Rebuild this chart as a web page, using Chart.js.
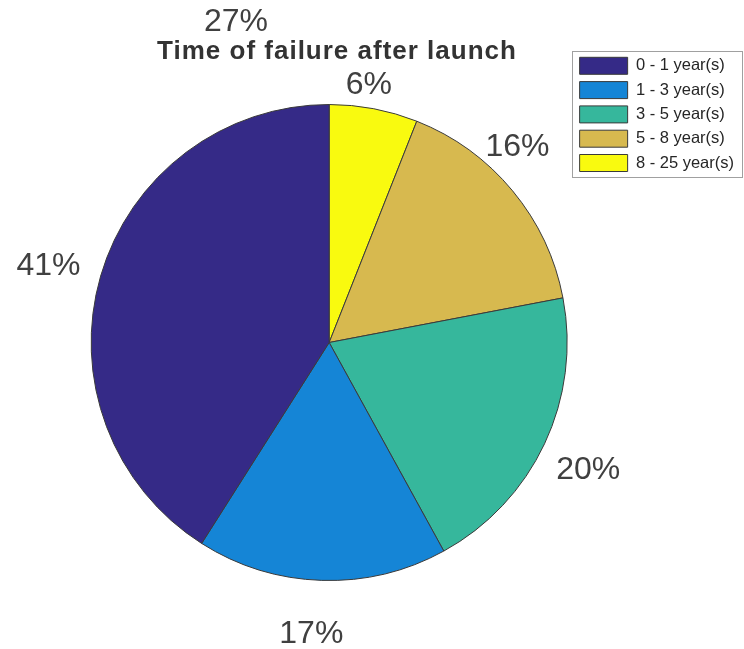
<!DOCTYPE html>
<html>
<head>
<meta charset="utf-8">
<script src="https://cdn.jsdelivr.net/npm/chart.js@4/dist/chart.umd.min.js"></script>
<style>
  html, body { margin: 0; padding: 0; background: #ffffff; }
  #wrap { width: 744px; height: 649px; position: relative; }
</style>
</head>
<body>
<div id="wrap"><canvas id="c" width="744" height="649"></canvas></div>
<script>
// ---- data ----
const titleText = 'Time of failure after launch';
const categories = ['0 - 1 year(s)', '1 - 3 year(s)', '3 - 5 year(s)', '5 - 8 year(s)', '8 - 25 year(s)'];
const shares = [41, 17, 20, 16, 6];
const strayLabel = '27%';

// ---- styles ----
const sliceColors = ['#352A87', '#1585D6', '#36B79C', '#D7B94F', '#F9FA0F'];
const labelRadius = [1.223, 1.227, 1.214, 1.139, 1.092];   // label distance / radius
const labelNudgeDeg = [-0.9, 1.7, 1.1, -6.4, -2.0];        // small angular shifts
const FONT = "'Liberation Sans', Arial, Helvetica, sans-serif";

// MATLAB draws counter-clockwise from 12 o'clock; Chart.js draws clockwise,
// so feed the slices in reverse order and reverse the legend back.
const revLabels = categories.slice().reverse();
const revData = shares.slice().reverse();
const revColors = sliceColors.slice().reverse();

const decor = {
  id: 'decor',
  afterDraw(chart) {
    const ctx = chart.ctx;
    const meta = chart.getDatasetMeta(0);
    ctx.save();
    // slice percentage labels
    ctx.font = '32px ' + FONT;
    ctx.fillStyle = '#404040';
    ctx.textAlign = 'center';
    ctx.textBaseline = 'middle';
    meta.data.forEach((arc, j) => {
      const i = categories.length - 1 - j;  // original category index
      const mid = (arc.startAngle + arc.endAngle) / 2 + labelNudgeDeg[i] * Math.PI / 180;
      const r = arc.outerRadius * labelRadius[i];
      ctx.fillText(shares[i] + '%', arc.x + Math.cos(mid) * r, arc.y + Math.sin(mid) * r);
    });
    // stray label at the top
    ctx.fillText(strayLabel, 236, 22);
    // title
    ctx.font = 'bold 26px ' + FONT;
    ctx.fillStyle = '#333333';
    ctx.textBaseline = 'alphabetic';
    try { ctx.letterSpacing = '1px'; } catch (e) {}
    ctx.fillText(titleText, 337, 59);
    try { ctx.letterSpacing = '0px'; } catch (e) {}
    // legend frame
    const lg = chart.legend;
    if (lg && lg.legendHitBoxes && lg.legendHitBoxes.length) {
      const hb = lg.legendHitBoxes;
      const top = hb[0].top - 6;
      const bottom = hb[hb.length - 1].top + hb[hb.length - 1].height + 6;
      ctx.strokeStyle = '#a0a0a0';
      ctx.lineWidth = 1;
      ctx.strokeRect(Math.round(hb[0].left - 8) + 0.5, Math.round(top) + 0.5,
                     Math.round(lg.right - 2 - (hb[0].left - 8)), Math.round(bottom - top));
    }
    ctx.restore();
  }
};

new Chart(document.getElementById('c'), {
  type: 'pie',
  data: {
    labels: revLabels,
    datasets: [{
      data: revData,
      backgroundColor: revColors,
      borderColor: '#3a3a3a',
      borderWidth: 1
    }]
  },
  options: {
    responsive: false,
    animation: false,
    radius: 238,
    layout: { padding: { top: 50, bottom: 14, left: 86, right: 0 } },
    plugins: {
      title: { display: false },
      tooltip: { enabled: false },
      legend: {
        display: true,
        position: 'right',
        align: 'start',
        reverse: true,
        labels: {
          boxWidth: 48,
          boxHeight: 17,
          padding: 7.3,
          color: '#262626',
          font: { family: FONT, size: 16.5 }
        }
      }
    }
  },
  plugins: [decor]
});
</script>
</body>
</html>
